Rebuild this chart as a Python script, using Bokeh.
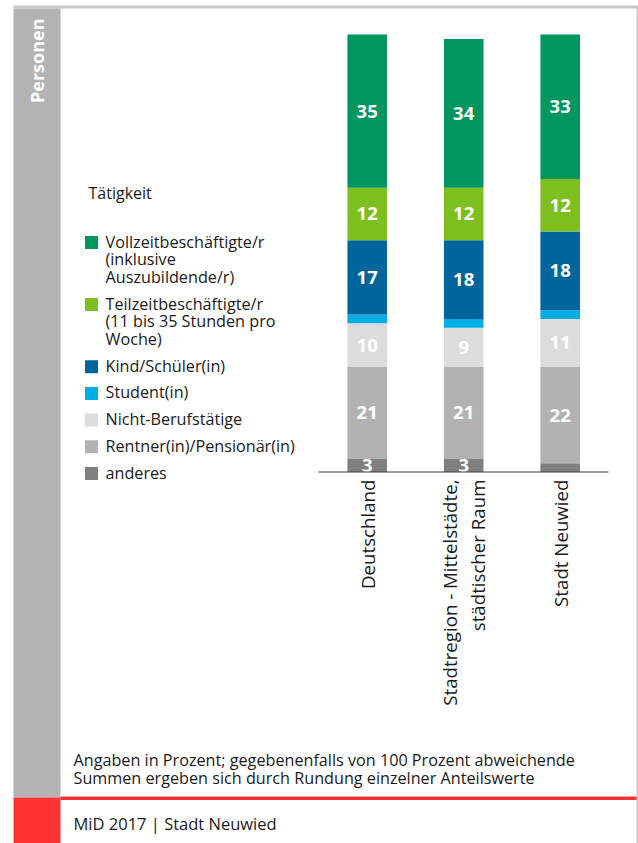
from math import pi
from bokeh.plotting import figure
from bokeh.models import Range1d, ColumnDataSource
from bokeh.core.properties import value
from bokeh.embed import file_html
from bokeh.resources import INLINE

# ---------------- data ----------------
categories = ["Deutschland", "Stadtregion - Mittelstädte,\nstädtischer Raum", "Stadt Neuwied"]
series_names = [
    "Vollzeitbeschäftigte/r\n(inklusive\nAuszubildende/r)",
    "Teilzeitbeschäftigte/r\n(11 bis 35 Stunden pro\nWoche)",
    "Kind/Schüler(in)",
    "Student(in)",
    "Nicht-Berufstätige",
    "Rentner(in)/Pensionär(in)",
    "anderes",
]
series_colors = ["#00965F", "#7DBF1E", "#00659A", "#00AEE6", "#DCDCDC", "#B2B2B2", "#808080"]
vollzeit = [35, 34, 33]
teilzeit = [12, 12, 12]
kind = [17, 18, 18]
student = [2, 2, 2]
nicht = [10, 9, 11]
rentner = [21, 21, 22]
anderes = [3, 3, 2]
legend_title = "Tätigkeit"
sidebar_label = "Personen"
note_lines = ["Angaben in Prozent; gegebenenfalls von 100 Prozent abweichende",
              "Summen ergeben sich durch Rundung einzelner Anteilswerte"]
footer_text = "MiD 2017 | Stadt Neuwied"

series_values = [vollzeit, teilzeit, kind, student, nicht, rentner, anderes]

FONT = value("Open Sans")
TXT = "#1a1a1a"

# ---------------- figure (data coords of default ranges = page pixels) ----------------
W, H = 638, 843
p = figure(width=W, height=H, x_range=Range1d(0, W), y_range=Range1d(H, 0),
           output_backend="svg", toolbar_location=None,
           x_axis_location=None, y_axis_location=None, min_border=0,
           outline_line_color=None, background_fill_color="white")
p.grid.visible = False

# bar scales
BAR_X0, BAR_DX = 366.7, 96.5
BASE_Y, PX_PER_PCT = 471.5, 4.375
p.extra_x_ranges = {"cat": Range1d((0 - BAR_X0) / BAR_DX, (W - BAR_X0) / BAR_DX)}
p.extra_y_ranges = {"pct": Range1d(-(H - BASE_Y) / PX_PER_PCT, (BASE_Y - 0) / PX_PER_PCT)}

# ---------------- page decorations ----------------
p.quad(left=[13], right=[637], top=[5], bottom=[8], color="#C8C8C8", line_color=None)
p.quad(left=[636], right=[638], top=[5], bottom=[H], color="#C8C8C8", line_color=None)
p.quad(left=[13], right=[60], top=[8], bottom=[797], color="#B3B3B3", line_color=None)
p.quad(left=[13], right=[60], top=[797], bottom=[H], color="#FF3333", line_color=None)
p.quad(left=[60], right=[636], top=[796], bottom=[799.5], color="#FF3333", line_color=None)

p.text(x=[36.5], y=[18], text=[sidebar_label], angle=pi / 2, text_align="right",
       text_baseline="middle", text_color="white", text_font=FONT,
       text_font_style="bold", text_font_size="18px")

# ---------------- stacked bars ----------------
idx = list(range(len(categories)))
bottoms = [0.0] * len(categories)
lab_x, lab_y, lab_t = [], [], []
for vals, col in zip(reversed(series_values), reversed(series_colors)):
    tops = [b + v for b, v in zip(bottoms, vals)]
    src = ColumnDataSource(dict(x=idx, bottom=bottoms, top=tops))
    p.vbar(x="x", bottom="bottom", top="top", width=0.41, source=src,
           color=col, line_color=None, x_range_name="cat", y_range_name="pct")
    for i, (b, v) in enumerate(zip(bottoms, vals)):
        if v >= 3:
            lab_x.append(i)
            lab_y.append(b + v / 2)
            lab_t.append(f"{v:g}")
    bottoms = tops

p.text(x=lab_x, y=lab_y, text=lab_t, x_range_name="cat", y_range_name="pct",
       text_align="center", text_baseline="middle", text_color="white",
       text_font=FONT, text_font_style="bold", text_font_size="18.5px")

# baseline axis line
p.segment(x0=[318], y0=[BASE_Y], x1=[608], y1=[BASE_Y], line_color="#3C3C3C", line_width=1.2)

# category labels (rotated)
p.text(x=idx, y=[479] * len(idx), text=categories, x_range_name="cat",
       angle=pi / 2, text_align="right", text_baseline="middle", text_color=TXT,
       text_font=FONT, text_font_size="18.7px", text_line_height=1.1)

# ---------------- legend ----------------
p.text(x=[88], y=[192], text=[legend_title], text_align="left", text_baseline="middle",
       text_color=TXT, text_font=FONT, text_font_size="16px")

LINE, GAP = 17.7, 9.0
y = 241.0
sq_x, sq_y, sq_c = [], [], []
lt_x, lt_y, lt_t = [], [], []
for name, col in zip(series_names, series_colors):
    lines = name.split("\n")
    sq_x.append(91)
    sq_y.append(y + 1)
    sq_c.append(col)
    for k, ln in enumerate(lines):
        lt_x.append(105)
        lt_y.append(y + k * LINE)
        lt_t.append(ln)
    y += len(lines) * LINE + GAP

p.rect(x=sq_x, y=sq_y, width=13, height=13, color=sq_c, line_color=None)
p.text(x=lt_x, y=lt_y, text=lt_t, text_align="left", text_baseline="middle",
       text_color=TXT, text_font=FONT, text_font_size="16.2px")

# ---------------- notes / footer ----------------
p.text(x=[73, 73], y=[759, 777], text=note_lines, text_align="left", text_baseline="middle",
       text_color=TXT, text_font=FONT, text_font_size="16.2px")
p.text(x=[73], y=[823], text=[footer_text], text_align="left", text_baseline="middle",
       text_color=TXT, text_font=FONT, text_font_size="16.5px")

open("out.html", "w").write(file_html(p, INLINE))
